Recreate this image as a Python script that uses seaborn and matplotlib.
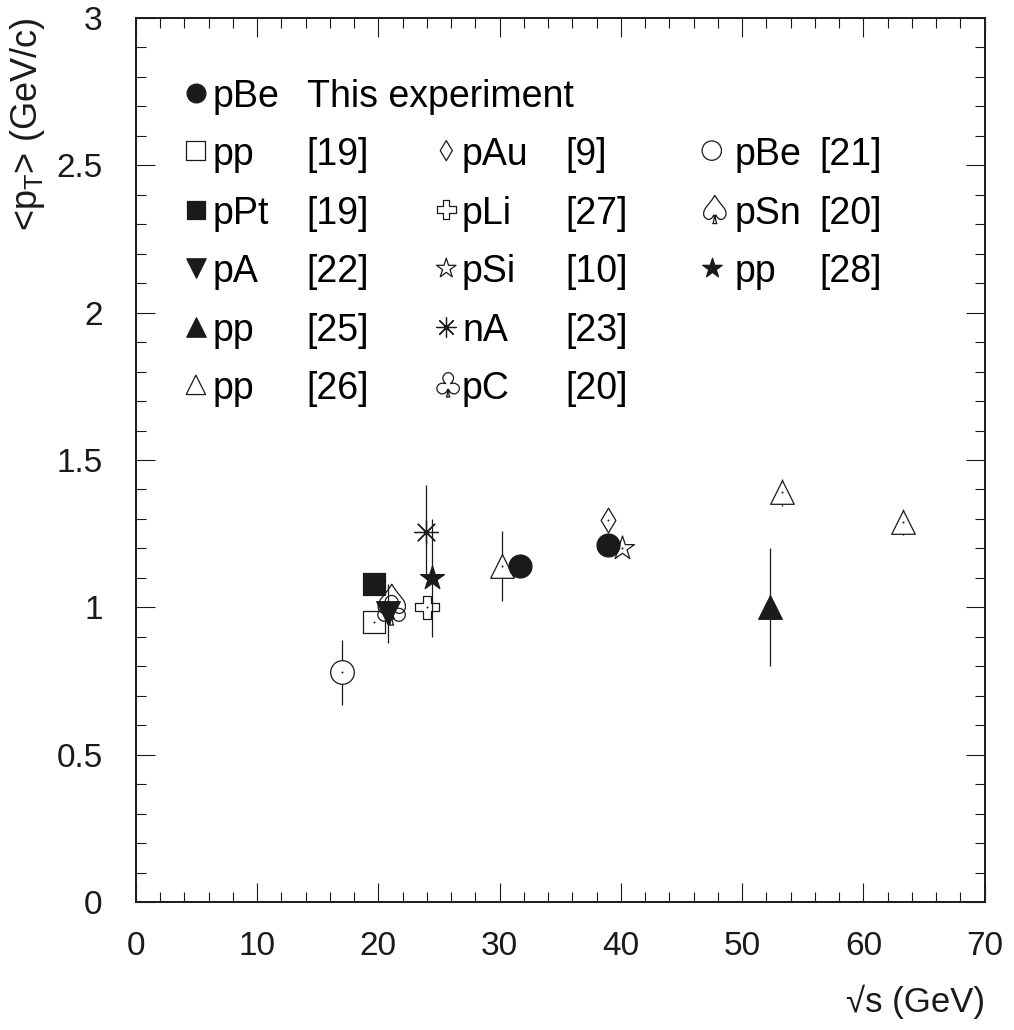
import numpy as np
import matplotlib
matplotlib.use("Agg")
import matplotlib.pyplot as plt
import seaborn as sns
from matplotlib.textpath import TextPath
from matplotlib.font_manager import FontProperties
from matplotlib.path import Path
from matplotlib.ticker import MultipleLocator, FormatStrFormatter

# <pT> vs sqrt(s)
this_x = [31.7, 38.9]
this_y = [1.14, 1.21]
this_err = [0.0, 0.0]

pp19_x, pp19_y, pp19_err = [19.6], [0.95], [0.0]
ppt19_x, ppt19_y, ppt19_err = [19.6], [1.08], [0.0]
pa22_x, pa22_y, pa22_err = [20.8], [0.98], [0.10]
pp25_x, pp25_y, pp25_err = [52.3], [1.00], [0.20]
pp26_x, pp26_y, pp26_err = [30.2, 53.3, 63.3], [1.14, 1.39, 1.29], [0.12, 0.045, 0.045]
pau9_x, pau9_y, pau9_err = [38.9], [1.295], [0.0]
pli27_x, pli27_y, pli27_err = [24.0], [1.00], [0.0]
psi10_x, psi10_y, psi10_err = [40.1], [1.20], [0.0]
na23_x, na23_y, na23_err = [23.9], [1.255], [0.16]
pc20_x, pc20_y, pc20_err = [20.9], [0.99], [0.0]
pbe21_x, pbe21_y, pbe21_err = [17.0], [0.78], [0.11]
psn20_x, psn20_y, psn20_err = [20.8], [1.02], [0.0]
pp28_x, pp28_y, pp28_err = [24.4], [1.10], [0.20]

sns.set_theme(style="ticks")
plt.rcParams["font.family"] = ["Liberation Sans", "DejaVu Sans"]
plt.rcParams["mathtext.default"] = "regular"
for key in ["text.color", "axes.labelcolor", "xtick.color", "ytick.color",
            "xtick.labelcolor", "ytick.labelcolor", "axes.edgecolor"]:
    plt.rcParams[key] = "black"


def glyph_marker(ch):
    p = TextPath((0, 0), ch, size=1, prop=FontProperties(family="DejaVu Sans"))
    v = p.vertices.copy()
    lo, hi = v.min(axis=0), v.max(axis=0)
    v = v - (lo + hi) / 2
    return Path(v, p.codes)


spade = glyph_marker("\u2660")
club = glyph_marker("\u2663")
asterisk = (8, 2, 0)

# (x, y, err, marker, filled, size, label, ref)
series = [
    (pbe21_x, pbe21_y, pbe21_err, "o", False, 17, "pBe", "[21]"),
    (pp19_x, pp19_y, pp19_err, "s", False, 16.5, "pp", "[19]"),
    (ppt19_x, ppt19_y, ppt19_err, "s", True, 16.5, "pPt", "[19]"),
    (psn20_x, psn20_y, psn20_err, spade, False, 25, "pSn", "[20]"),
    (pc20_x, pc20_y, pc20_err, club, False, 23, "pC", "[20]"),
    (pa22_x, pa22_y, pa22_err, "v", True, 17, "pA", "[22]"),
    (pli27_x, pli27_y, pli27_err, "P", False, 17, "pLi", "[27]"),
    (na23_x, na23_y, na23_err, asterisk, False, 17, "nA", "[23]"),
    (pp28_x, pp28_y, pp28_err, "*", True, 18, "pp", "[28]"),
    (pp26_x, pp26_y, pp26_err, "^", False, 17, "pp", "[26]"),
    (pp25_x, pp25_y, pp25_err, "^", True, 17, "pp", "[25]"),
    (pau9_x, pau9_y, pau9_err, "d", False, 12.5, "pAu", "[9]"),
    (psi10_x, psi10_y, psi10_err, "*", False, 18, "pSi", "[10]"),
    (this_x, this_y, this_err, "o", True, 16.5, "pBe", "This experiment"),
]

fig = plt.figure(figsize=(10.14, 10.30), dpi=100)
ax = fig.add_axes([0.134, 0.1243, 0.837, 0.8582])


def draw_marker(ax, x, y, marker, filled, size, face_white=True, z=3):
    if marker is asterisk:
        sns.scatterplot(x=x, y=y, marker=marker, s=size ** 2, color="k",
                        linewidth=0.9, ax=ax, zorder=z)
    elif filled:
        sns.scatterplot(x=x, y=y, marker=marker, s=size ** 2, facecolor="k",
                        edgecolor="k", linewidth=0.9, ax=ax, zorder=z)
    else:
        sns.scatterplot(x=x, y=y, marker=marker, s=size ** 2,
                        facecolor="white" if face_white else "none",
                        edgecolor="k", linewidth=0.9, ax=ax, zorder=z)


for i, (x, y, err, m, filled, size, lab, ref) in enumerate(series):
    if any(e > 0 for e in err):
        ax.errorbar(x, y, yerr=err, fmt="none", ecolor="k", elinewidth=0.9,
                    capsize=0, zorder=2)
    white = m not in (spade, club, "P")
    draw_marker(ax, x, y, m, filled, size, face_white=white, z=3 + i * 0.01)
    if not filled and m is not asterisk:
        sns.scatterplot(x=x, y=y, marker="o", s=2.0, color="k", linewidth=0,
                        ax=ax, zorder=4)

ax.set_xlim(0, 70)
ax.set_ylim(0, 3)
ax.xaxis.set_major_locator(MultipleLocator(10))
ax.xaxis.set_minor_locator(MultipleLocator(2))
ax.yaxis.set_major_locator(MultipleLocator(0.5))
ax.yaxis.set_minor_locator(MultipleLocator(0.1))
ax.yaxis.set_major_formatter(FormatStrFormatter("%g"))
ax.tick_params(which="both", direction="in", top=True, right=True,
               width=0.8, color="k", labelsize=24, labelcolor="k")
ax.tick_params(which="major", length=14)
ax.tick_params(which="minor", length=7)
ax.tick_params(axis="x", which="major", pad=21)
ax.tick_params(axis="y", which="major", pad=24)
for sp in ax.spines.values():
    sp.set_linewidth(1.4)
    sp.set_color("k")
    sp.set_visible(True)

ax.set_xlabel("\u221as (GeV)", fontsize=25, loc="right", color="k")
ax.xaxis.set_label_coords(1.0, -0.093)
ax.set_ylabel("<p$_T$> (GeV/c)", fontsize=26, loc="top", color="k")
ax.yaxis.set_label_coords(-0.105, 1.0)

# legend block, drawn by hand like the original
col_marker = [4.95, 25.6, 47.5]
col_label = [6.3, 26.9, 49.4]
col_ref = [14.1, 35.4, 56.4]
legend_rows = [
    (0, 0, 13), (1, 0, 1), (2, 0, 2), (3, 0, 5), (4, 0, 10), (5, 0, 9),
    (1, 1, 11), (2, 1, 6), (3, 1, 12), (4, 1, 7), (5, 1, 4),
    (1, 2, 0), (2, 2, 3), (3, 2, 8),
]
row_y = [2.745, 2.55, 2.35, 2.15, 1.95, 1.755]
for r, c, k in legend_rows:
    _, _, _, m, filled, size, lab, ref = series[k]
    yy = row_y[r]
    draw_marker(ax, [col_marker[c]], [yy], m, filled, size * 0.82, face_white=False)
    ax.text(col_label[c], yy, lab, fontsize=27, va="center_baseline", ha="left")
    ax.text(col_ref[c], yy, ref, fontsize=27, va="center_baseline", ha="left")

fig.savefig("out.png", dpi=100)
